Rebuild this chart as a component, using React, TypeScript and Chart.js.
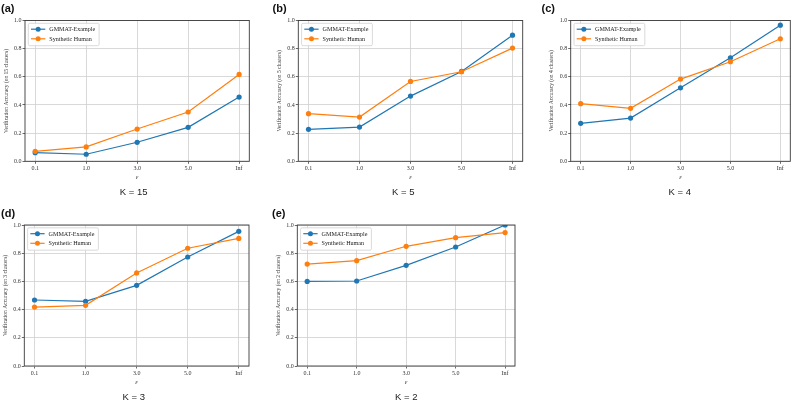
import React, { useEffect, useRef } from "react";
import { Chart, registerables } from "chart.js";

Chart.register(...registerables);

// Privacy budget values along the x axis
const epsilonLabels = ["0.1", "1.0", "3.0", "5.0", "Inf"];
const yTickValues = [0, 0.2, 0.4, 0.6, 0.8, 1.0];
const seriesNames = ["GMMAT-Example", "Synthetic Human"];

// Verification accuracy per cluster count
const gmmatK15 = [0.061, 0.05, 0.135, 0.241, 0.456];
const humanK15 = [0.071, 0.102, 0.229, 0.35, 0.617];
const gmmatK5 = [0.227, 0.243, 0.463, 0.638, 0.896];
const humanK5 = [0.338, 0.314, 0.567, 0.636, 0.804];
const gmmatK4 = [0.27, 0.307, 0.522, 0.735, 0.967];
const humanK4 = [0.409, 0.376, 0.584, 0.707, 0.87];
const gmmatK3 = [0.468, 0.459, 0.572, 0.773, 0.955];
const humanK3 = [0.418, 0.43, 0.66, 0.835, 0.905];
const gmmatK2 = [0.6, 0.603, 0.714, 0.844, 1.0];
const humanK2 = [0.723, 0.747, 0.849, 0.91, 0.946];

const panelTags = ["(a)", "(b)", "(c)", "(d)", "(e)"];
const clusterCounts = [15, 5, 4, 3, 2];
const gmmatSeries = [gmmatK15, gmmatK5, gmmatK4, gmmatK3, gmmatK2];
const humanSeries = [humanK15, humanK5, humanK4, humanK3, humanK2];

const BLUE = "#1f77b4";
const ORANGE = "#ff7f0e";
const SERIF = '"Liberation Serif", "DejaVu Serif", serif';
const SANS = '"Liberation Sans", Arial, sans-serif';

type Layout = {
  cell: { x: number; y: number; w: number; h: number };
  area: { l: number; r: number; t: number; b: number };
  tag: { x: number; y: number };
  caption: { x: number; y: number };
};

// Placement of each subplot on the page
const layouts: Layout[] = [
  { cell: { x: 0, y: 0, w: 265, h: 200 }, area: { l: 25, r: 249.3, t: 20.5, b: 161.3 }, tag: { x: 1, y: 9 }, caption: { x: 133.7, y: 192.7 } },
  { cell: { x: 265, y: 0, w: 270, h: 200 }, area: { l: 298.3, r: 522.7, t: 20.5, b: 161.3 }, tag: { x: 272.5, y: 9 }, caption: { x: 403.3, y: 192.7 } },
  { cell: { x: 535, y: 0, w: 265, h: 200 }, area: { l: 570.7, r: 790.3, t: 20.5, b: 161.3 }, tag: { x: 541.5, y: 9 }, caption: { x: 679.7, y: 192.7 } },
  { cell: { x: 0, y: 200, w: 265, h: 206 }, area: { l: 24.3, r: 249, t: 225, b: 366 }, tag: { x: 1, y: 214 }, caption: { x: 133.7, y: 397.3 } },
  { cell: { x: 265, y: 200, w: 270, h: 206 }, area: { l: 297.3, r: 515, t: 225, b: 366 }, tag: { x: 272, y: 214 }, caption: { x: 406.3, y: 397.3 } },
];

const Y_AXIS_W = 23;
const X_AXIS_H = 20;

function Panel({ index }: { index: number }) {
  const ref = useRef<HTMLCanvasElement | null>(null);
  const lay = layouts[index];

  useEffect(() => {
    const canvas = ref.current;
    if (!canvas) return;
    const { cell, area } = lay;

    // axes frame drawn around the plotting area
    const framePlugin = {
      id: "axesFrame",
      afterDatasetsDraw(chart: any) {
        const { ctx, chartArea } = chart;
        ctx.save();
        ctx.strokeStyle = "#3a3a3a";
        ctx.lineWidth = 0.9;
        ctx.strokeRect(chartArea.left, chartArea.top, chartArea.right - chartArea.left, chartArea.bottom - chartArea.top);
        ctx.restore();
      },
    };

    // legend box in the upper-left corner of the axes
    const legendPlugin = {
      id: "cornerLegend",
      afterDatasetsDraw(chart: any) {
        const { ctx, chartArea } = chart;
        ctx.save();
        ctx.font = `6.1px ${SERIF}`;
        const items = [
          { name: seriesNames[0], color: BLUE },
          { name: seriesNames[1], color: ORANGE },
        ];
        const tw = Math.max(...items.map((it) => ctx.measureText(it.name).width));
        const x0 = chartArea.left + 3.3;
        const y0 = chartArea.top + 2.8;
        const w = 21 + tw + 4;
        const h = 22.4;
        ctx.beginPath();
        if ((ctx as any).roundRect) (ctx as any).roundRect(x0, y0, w, h, 1.5);
        else ctx.rect(x0, y0, w, h);
        ctx.fillStyle = "rgba(255,255,255,0.85)";
        ctx.fill();
        ctx.strokeStyle = "#d0d0d0";
        ctx.lineWidth = 0.8;
        ctx.stroke();
        items.forEach((it, i) => {
          const y = y0 + 5.9 + i * 9.6;
          ctx.strokeStyle = it.color;
          ctx.lineWidth = 1.2;
          ctx.beginPath();
          ctx.moveTo(x0 + 2.7, y);
          ctx.lineTo(x0 + 17, y);
          ctx.stroke();
          ctx.fillStyle = it.color;
          ctx.beginPath();
          ctx.arc(x0 + 9.85, y, 2.5, 0, Math.PI * 2);
          ctx.fill();
          ctx.fillStyle = "#222";
          ctx.textBaseline = "middle";
          ctx.textAlign = "left";
          ctx.fillText(it.name, x0 + 21, y + 0.3);
        });
        ctx.restore();
      },
    };

    // panel letter and cluster caption
    const textPlugin = {
      id: "panelText",
      afterDraw(chart: any) {
        const { ctx } = chart;
        ctx.save();
        ctx.fillStyle = "#111";
        ctx.textBaseline = "middle";
        ctx.textAlign = "left";
        ctx.font = `bold 11px ${SANS}`;
        ctx.fillText(panelTags[index], lay.tag.x - cell.x, lay.tag.y - cell.y);
        ctx.textAlign = "center";
        ctx.font = `9.5px ${SANS}`;
        ctx.fillStyle = "#222";
        ctx.fillText(`K = ${clusterCounts[index]}`, lay.caption.x - cell.x, lay.caption.y - cell.y);
        ctx.restore();
      },
    };

    const toPoints = (vals: number[]) => vals.map((y, i) => ({ x: i, y }));

    const chart = new Chart(canvas, {
      type: "line",
      data: {
        datasets: [
          {
            label: seriesNames[0],
            data: toPoints(gmmatSeries[index]),
            borderColor: BLUE,
            backgroundColor: BLUE,
            borderWidth: 1.2,
            pointRadius: 2.6,
            pointBorderWidth: 0,
            pointBackgroundColor: BLUE,
            tension: 0,
            order: 1,
          },
          {
            label: seriesNames[1],
            data: toPoints(humanSeries[index]),
            borderColor: ORANGE,
            backgroundColor: ORANGE,
            borderWidth: 1.2,
            pointRadius: 2.6,
            pointBorderWidth: 0,
            pointBackgroundColor: ORANGE,
            tension: 0,
            order: 0,
          },
        ],
      },
      options: {
        animation: false,
        responsive: false,
        maintainAspectRatio: false,
        layout: {
          padding: {
            left: area.l - cell.x - Y_AXIS_W,
            right: cell.x + cell.w - area.r,
            top: area.t - cell.y,
            bottom: cell.y + cell.h - area.b - X_AXIS_H,
          },
        },
        plugins: {
          legend: { display: false },
          tooltip: { enabled: false },
        },
        scales: {
          x: {
            type: "linear",
            min: -0.2,
            max: 4.2,
            afterBuildTicks: (scale: any) => {
              scale.ticks = epsilonLabels.map((_, i) => ({ value: i }));
            },
            afterFit: (scale: any) => {
              scale.height = X_AXIS_H;
            },
            ticks: {
              autoSkip: false,
              maxRotation: 0,
              padding: 1.5,
              color: "#333",
              font: { family: SERIF, size: 6 },
              callback: (v: any) => epsilonLabels[Math.round(Number(v))] ?? "",
            },
            grid: {
              color: "#cfcfcf",
              lineWidth: 0.8,
              drawTicks: true,
              tickLength: 2.5,
              tickColor: "#444",
            },
            border: { display: false },
            title: {
              display: true,
              text: "ε",
              color: "#333",
              padding: { top: 0, bottom: 0 },
              font: { family: SERIF, size: 6.5, style: "italic" },
            },
          },
          y: {
            type: "linear",
            min: 0,
            max: 1,
            afterBuildTicks: (scale: any) => {
              scale.ticks = yTickValues.map((v) => ({ value: v }));
            },
            afterFit: (scale: any) => {
              scale.width = Y_AXIS_W;
            },
            ticks: {
              padding: 1,
              color: "#333",
              font: { family: SERIF, size: 6 },
              callback: (v: any) => Number(v).toFixed(1),
            },
            grid: {
              color: "#cfcfcf",
              lineWidth: 0.8,
              drawTicks: true,
              tickLength: 2.5,
              tickColor: "#444",
            },
            border: { display: false },
            title: {
              display: true,
              text: `Verification Accuracy (on ${clusterCounts[index]} clusters)`,
              color: "#333",
              padding: { top: 1, bottom: 0 },
              font: { family: SERIF, size: 5.5 },
            },
          },
        },
      },
      plugins: [framePlugin, legendPlugin, textPlugin],
    } as any);

    return () => chart.destroy();
  }, [index]);

  return (
    <canvas
      ref={ref}
      width={lay.cell.w}
      height={lay.cell.h}
      style={{
        position: "absolute",
        left: lay.cell.x,
        top: lay.cell.y,
        width: lay.cell.w,
        height: lay.cell.h,
      }}
    />
  );
}

export default function App() {
  return (
    <div
      style={{
        position: "fixed",
        left: 0,
        top: 0,
        width: 800,
        height: 406,
        background: "#ffffff",
        overflow: "hidden",
      }}
    >
      {layouts.map((_, i) => (
        <Panel key={i} index={i} />
      ))}
    </div>
  );
}
